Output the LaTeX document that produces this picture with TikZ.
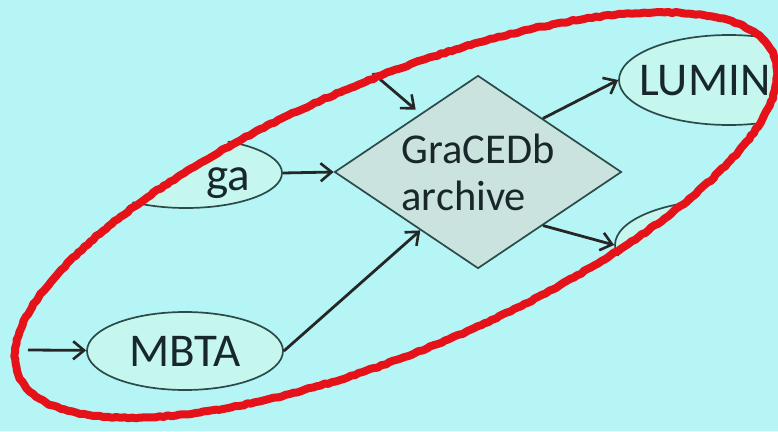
\documentclass[tikz,border=0pt]{standalone}
\usepackage{fontspec}
\setmainfont{Carlito}
\usepackage{xcolor}
\usepackage{tikz}
\usetikzlibrary{arrows,arrows.meta,shapes.geometric,calc,decorations.pathmorphing}

\definecolor{slidebg}{HTML}{B6F5F5}
\definecolor{blobfill}{HTML}{C6F7EE}
\definecolor{boxfill}{HTML}{CBE3DF}
\definecolor{rimline}{HTML}{2C4A48}
\definecolor{inktext}{HTML}{18282A}
\definecolor{penred}{HTML}{E5121A}

\begin{document}
\begin{tikzpicture}[x=1pt,y=-1pt,inner sep=1pt,
  >={Straight Barb[length=11pt,width=18pt,line width=2.6pt]},
  blob/.style={ellipse,draw=rimline,fill=blobfill,line width=1.7pt,text=inktext},
  gem/.style={diamond,draw=rimline,fill=boxfill,line width=1.7pt,text=inktext,
    align=left,shape aspect=1.49,minimum width=287pt,minimum height=193pt},
  big/.style={font=\fontsize{42.5}{47}\selectfont},
  bigger/.style={font=\fontsize{47}{52}\selectfont},
  flow/.style={->,line width=2.8pt,draw=black!85}]
\useasboundingbox (0,0) rectangle (778,431);
\fill[slidebg] (0,0) rectangle (778,431);

\begin{scope}
\clip[rotate around={23:(396,215)}] (396,215) ellipse [x radius=414, y radius=140];

\node[blob,minimum width=192pt,minimum height=70pt] (omg) at (186,173) {};
\node[bigger,text=inktext,anchor=base] (omgtxt) at (228,190) {ga};
\node[gem,big] (db) at (478,172) {GraCEDb\\archive};
\node[blob,minimum width=220pt,minimum height=90pt] (lum) at (729,80) {};
\node[bigger,text=inktext,anchor=base west] (lumtxt) at (638,95) {LUMIN};
\node[blob,minimum width=220pt,minimum height=90pt] (bot) at (725,245) {};
\node[blob,bigger,minimum width=196pt,minimum height=78pt] (mbta) at (185,351) {MBTA};

\coordinate (feed) at (28,350);
\coordinate (upin) at (355,58);

\path (feed) edge [flow] (mbta);
\path (omg.east) edge [flow] (db.west);
\path (mbta.east) edge [flow] ($(db.west)!0.6!(db.south)$);
\path ($(db.north)!0.45!(db.east)$) edge [flow] (lum.west);
\path ($(db.east)!0.55!(db.south)$) edge [flow] (bot.west);
\path (upin) edge [flow,shorten >=6pt] ($(db.west)!0.6!(db.north)$);
\end{scope}

% hand drawn ring
\draw[penred,line width=8pt,line join=round,rotate around={23:(396,215)},
  decorate,decoration={random steps,segment length=4pt,amplitude=0.7pt}]
  (396,215) ellipse [x radius=410, y radius=135];
\end{tikzpicture}
\end{document}
